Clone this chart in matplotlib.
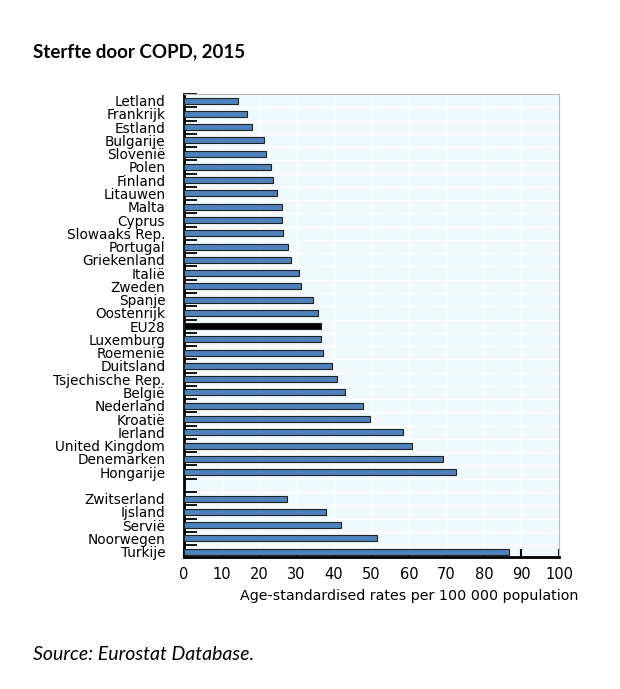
import numpy as np
import matplotlib
matplotlib.use("Agg")
import matplotlib.pyplot as plt

# EU members + EU28 (top to bottom), then non-EU countries after a gap
eu_countries = ["Letland", "Frankrijk", "Estland", "Bulgarije", "Slovenië", "Polen",
                "Finland", "Litauwen", "Malta", "Cyprus", "Slowaaks Rep.", "Portugal",
                "Griekenland", "Italië", "Zweden", "Spanje", "Oostenrijk", "EU28",
                "Luxemburg", "Roemenië", "Duitsland", "Tsjechische Rep.", "België",
                "Nederland", "Kroatië", "Ierland", "United Kingdom", "Denemarken",
                "Hongarije"]
eu_values = [14.5, 16.9, 18.1, 21.3, 21.8, 23.2, 23.8, 24.7, 26.1, 26.2, 26.4, 27.7,
             28.4, 30.6, 31.1, 34.5, 35.8, 36.4, 36.6, 37.0, 39.4, 40.8, 43.0,
             47.6, 49.7, 58.3, 60.9, 69.2, 72.5]
other_countries = ["Zwitserland", "Ijsland", "Servië", "Noorwegen", "Turkije"]
other_values = [27.5, 37.9, 41.9, 51.5, 86.8]

xticks = list(range(0, 101, 10))

labels = eu_countries + [""] + other_countries
values = eu_values + [np.nan] + other_values
pos = np.arange(len(labels))
colors = ["black" if c == "EU28" else "#4f81bd" for c in labels]

fig = plt.figure(figsize=(6.2, 6.89), dpi=100)
ax = fig.add_axes([0.2968, 0.1916, 0.6048, 0.672])
ax.set_facecolor("#effafe")

ax.barh(pos, values, height=0.45, color=colors, edgecolor="#222222", linewidth=0.8, zorder=3)

ax.set_ylim(len(labels) - 0.6, -0.4)
ax.set_xlim(0, 100)

ax.set_yticks(pos)
ax.set_yticklabels(labels, fontsize=9.8, family="DejaVu Sans")
ax.tick_params(axis="y", which="major", length=0, pad=13.5)
ax.set_yticks(np.arange(-0.5, len(labels) - 0.5, 1.0), minor=True)
ax.tick_params(axis="y", which="minor", direction="in", length=9, width=1.3, color="black")

ax.set_xticks(xticks)
ax.set_xticklabels([str(t) for t in xticks], fontsize=10.5, family="DejaVu Sans")
ax.tick_params(axis="x", direction="in", length=6, width=1.5, pad=7)

ax.grid(axis="x", color="white", linewidth=1.0, zorder=0)
ax.grid(axis="y", which="minor", color="white", linewidth=1.0, zorder=0)

for s in ["left", "bottom"]:
    ax.spines[s].set_linewidth(2)
    ax.spines[s].set_color("black")
for s in ["top", "right"]:
    ax.spines[s].set_linewidth(0.8)
    ax.spines[s].set_color("#bbbbbb")

ax.text(0.6, -0.085, "Age-standardised rates per 100 000 population", transform=ax.transAxes,
        ha="center", va="center", fontsize=10.3, family="DejaVu Sans")

fig.text(33 / 620, 1 - 52 / 689, "Sterfte door COPD, 2015", fontsize=13.5, fontweight="bold",
         family="Lato", ha="left", va="center")
fig.text(33 / 620, 1 - 655 / 689, "Source: Eurostat Database.", fontsize=14, style="italic",
         family="Lato", ha="left", va="center")

fig.savefig("out.png", dpi=100)
